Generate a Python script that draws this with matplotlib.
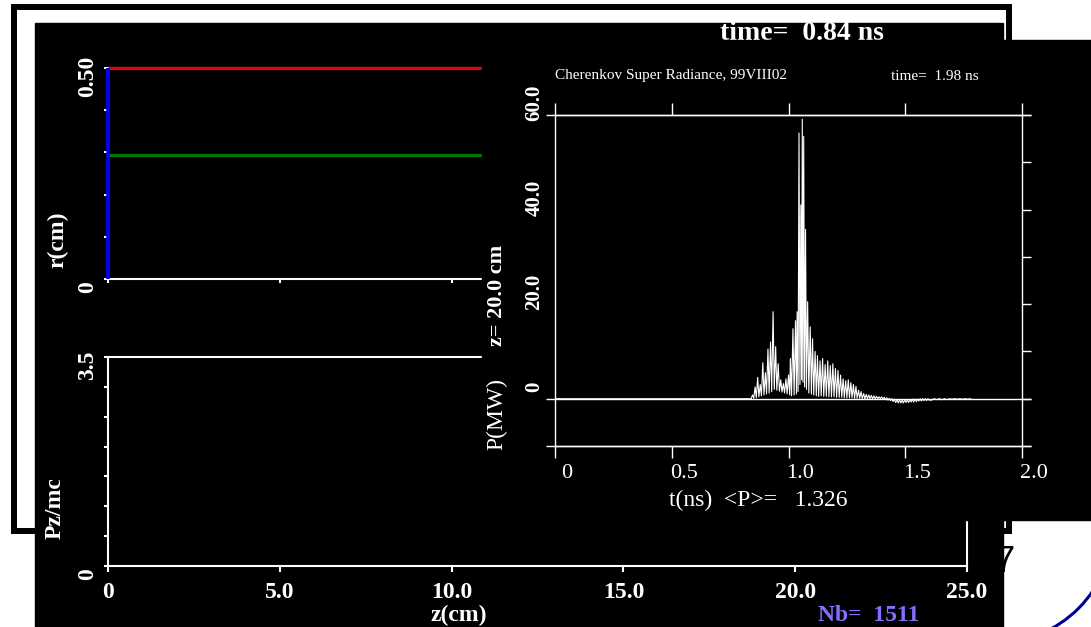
import matplotlib
matplotlib.use("Agg")
import matplotlib.pyplot as plt
from matplotlib.patches import Rectangle, Ellipse
from matplotlib.transforms import ScaledTranslation

plt.rcParams['font.family'] = ['Liberation Serif', 'DejaVu Serif']

W, H = 1091, 627

# r-z window: wall, beam edge, cathode
z_line = [0.0, 25.0]
r_wall = [0.50, 0.50]
r_beam = [0.295, 0.295]
z_cath = [0.0, 0.0]
r_cath = [0.0, 0.50]

r_ticks = [0, 0.1, 0.2, 0.3, 0.4, 0.5]
r_ticklabels = ["0", "", "", "", "", "0.50"]
pz_ticks = [0, 0.5, 1.0, 1.5, 2.0, 2.5, 3.0, 3.5]
pz_ticklabels = ["0", "", "", "", "", "", "", "3.5"]
z_ticks = [0, 5, 10, 15, 20, 25]
z_ticklabels = ["0", "5.0", "10.0", "15.0", "20.0", "25.0"]

t_ticks = [0, 0.5, 1.0, 1.5, 2.0]
t_ticklabels = ["0", "0.5", "1.0", "1.5", "2.0"]
p_ticks = [-10, 0, 10, 20, 30, 40, 50, 60]
p_ticklabels = ["", "0", "", "20.0", "", "40.0", "", "60.0"]
p_lines = [-10, 0, 60]

# output power at z = 20 cm, P(MW) vs t(ns)
t_pre = [0.000, 0.840]
p_pre = [0.0, 0.0]

t_rise = [0.846, 0.851, 0.857, 0.862, 0.868, 0.873, 0.879, 0.884, 0.890, 0.895,
          0.901, 0.906, 0.912, 0.917, 0.923, 0.928, 0.934, 0.939, 0.945, 0.950,
          0.956, 0.961, 0.967, 0.972, 0.978, 0.983, 0.989, 0.994, 1.000, 1.005,
          1.008, 1.013, 1.019, 1.024, 1.030, 1.034]
p_rise = [0.8, 0.1, 2.5, 0.2, 4.5, 0.4, 3.0, 0.6, 7.6, 0.8,
          5.5, 1.0, 10.5, 1.2, 12.0, 1.5, 18.4, 2.0, 11.0, 1.8,
          7.4, 1.6, 4.0, 1.4, 3.2, 1.2, 4.2, 1.0, 5.0, 0.8,
          8.5, 0.6, 14.8, 0.8, 16.5, 1.0]

t_peak = [1.037, 1.041, 1.045, 1.049, 1.053, 1.056, 1.059, 1.062, 1.065, 1.069,
          1.073, 1.077, 1.082, 1.087, 1.093, 1.098, 1.103, 1.108]
p_peak = [18.4, 1.5, 56.2, 3.0, 41.0, 4.0, 59.1, 3.5, 55.5, 2.5,
          35.8, 2.0, 20.5, 1.2, 15.2, 1.0, 12.7, 0.8]

t_decay = [1.114, 1.119, 1.124, 1.129, 1.135, 1.140, 1.146, 1.151, 1.157, 1.162,
           1.168, 1.173, 1.179, 1.184, 1.190, 1.195, 1.201, 1.206, 1.212, 1.217,
           1.223, 1.228, 1.234, 1.239, 1.245, 1.250, 1.256, 1.261, 1.267, 1.272,
           1.278, 1.283, 1.289, 1.294, 1.300, 1.305, 1.311, 1.316, 1.322, 1.327,
           1.333, 1.338, 1.344, 1.349, 1.355, 1.360, 1.366, 1.371, 1.377, 1.382,
           1.388, 1.393, 1.399, 1.404, 1.410, 1.415, 1.421, 1.426, 1.432, 1.437]
p_decay = [10.0, 0.6, 9.1, 0.5, 8.0, 0.6, 8.5, 0.5, 7.2, 0.5,
           8.0, 0.4, 7.0, 0.4, 7.4, 0.4, 6.4, 0.3, 6.0, 0.3,
           5.0, 0.3, 4.2, 0.2, 3.8, 0.2, 4.0, 0.2, 3.4, 0.2,
           3.0, 0.1, 2.6, 0.1, 1.8, 0.1, 1.5, 0.0, 1.1, 0.0,
           0.9, 0.0, 0.8, 0.0, 0.7, 0.0, 0.6, 0.0, 0.5, 0.0,
           0.4, 0.0, 0.4, -0.1, 0.3, -0.2, 0.2, -0.3, 0.1, -0.4]

t_tail = [1.443, 1.448, 1.454, 1.459, 1.465, 1.470, 1.476, 1.481, 1.487, 1.492,
          1.498, 1.503, 1.509, 1.514, 1.520, 1.525, 1.531, 1.536, 1.542, 1.547,
          1.553, 1.558, 1.564, 1.569, 1.575, 1.580, 1.586, 1.591, 1.597, 1.602,
          1.613, 1.624, 1.635, 1.646, 1.657, 1.668, 1.679, 1.690, 1.701, 1.712,
          1.723, 1.734, 1.745, 1.756, 1.767, 1.780]
p_tail = [0.0, -0.6, -0.1, -0.8, -0.2, -0.9, -0.2, -0.9, -0.3, -0.9,
          -0.2, -0.8, -0.2, -0.8, -0.2, -0.7, -0.1, -0.7, -0.1, -0.6,
          -0.1, -0.5, 0.0, -0.5, 0.0, -0.4, 0.0, -0.4, 0.0, -0.3,
          -0.3, 0.0, -0.2, 0.0, -0.2, 0.0, -0.2, 0.0, -0.1, 0.0,
          -0.1, 0.0, -0.1, 0.0, -0.1, 0.0]

t_ns = t_pre + t_rise + t_peak + t_decay + t_tail
p_mw = p_pre + p_rise + p_peak + p_decay + p_tail


def fx(x):
    return x / W


def fy(y):
    return 1 - y / H


def box(x0, y0, x1, y1):
    return [fx(x0), fy(y1), fx(x1) - fx(x0), fy(y0) - fy(y1)]


def shift(labels, dx, dy):
    for lab in labels:
        lab.set_transform(lab.get_transform() + ScaledTranslation(dx / 100, -dy / 100, fig.dpi_scale_trans))


fig = plt.figure(figsize=(W / 100, H / 100), dpi=100)
fig.patch.set_facecolor("white")

# slide decoration behind the windows
fig.add_artist(Rectangle((fx(14), fy(531)), fx(1009) - fx(14), fy(7) - fy(531), fill=False,
                         ec="black", lw=4.3, transform=fig.transFigure, zorder=0.1))
fig.add_artist(Ellipse((fx(995), fy(525)), 2 * 118 / W, 2 * 118 / H, fill=False,
                       ec="#00008f", lw=2.2, transform=fig.transFigure, zorder=0.2))
fig.text(fx(1016), fy(562), "17", ha="right", va="center", fontsize=26,
         family="Liberation Sans", color="black", zorder=0.3)

# left window
fig.add_artist(Rectangle((fx(35), -0.01), fx(1003) - fx(35), fy(23) + 0.01, color="black",
                         transform=fig.transFigure, zorder=0.5))

ax_r = fig.add_axes(box(108, 68, 967, 279))
ax_pz = fig.add_axes(box(108, 357, 967, 566))
for ax in (ax_r, ax_pz):
    ax.set_zorder(1)
    ax.patch.set_visible(False)
    for sp in ax.spines.values():
        sp.set_color("white")
        sp.set_linewidth(1.5)
    ax.set_xlim(0, 25)
    ax.set_xticks(z_ticks)

ax_r.set_ylim(0, 0.5)
ax_r.set_yticks(r_ticks)
ax_r.set_xticklabels([])
ax_r.set_yticklabels(r_ticklabels, rotation=90, fontweight="bold", va="center")
ax_r.tick_params(axis="x", direction="out", length=3, width=1.5, colors="white")
ax_r.tick_params(axis="y", direction="out", length=3, width=1.5, colors="white",
                 labelsize=17, pad=4)
ax_r.plot(z_line, r_wall, color="#ee0000", lw=2.3, solid_capstyle="butt", clip_on=False, zorder=3)
ax_r.plot(z_line, r_beam, color="#007800", lw=2.3, solid_capstyle="butt", clip_on=False, zorder=3)
ax_r.plot(z_cath, r_cath, color="#0000ff", lw=2.6, solid_capstyle="butt", clip_on=False, zorder=3)
shift(ax_r.get_yticklabels(), 0, 8)

ax_pz.set_ylim(0, 3.5)
ax_pz.set_yticks(pz_ticks)
ax_pz.set_xticklabels(z_ticklabels, fontweight="bold")
ax_pz.set_yticklabels(pz_ticklabels, rotation=90, fontweight="bold", va="center")
ax_pz.tick_params(axis="x", direction="out", length=4.3, width=1.5, colors="white",
                  labelsize=17, pad=7)
ax_pz.tick_params(axis="y", direction="out", length=3, width=1.5, colors="white",
                  labelsize=17, pad=4)
shift(ax_pz.get_yticklabels(), 0, 8)

fig.text(fx(802), fy(33), "time=  0.84 ns", ha="center", va="center", fontsize=20,
         fontweight="bold", color="white", zorder=1.5)
fig.text(fx(58), fy(240), "r(cm)", ha="center", va="center", rotation=90, fontsize=17,
         fontweight="bold", color="white", zorder=1.5)
fig.text(fx(55), fy(508), "Pz/mc", ha="center", va="center", rotation=90, fontsize=17,
         fontweight="bold", color="white", zorder=1.5)
fig.text(fx(459), fy(626), "z(cm)", ha="center", va="bottom", fontsize=17,
         fontweight="bold", color="white", zorder=1.5)
fig.text(fx(818), fy(626), "Nb=  1511", ha="left", va="bottom", fontsize=17,
         fontweight="bold", color="#8470ff", zorder=1.5)

# right window: power at the output
fig.add_artist(Rectangle((fx(482), fy(520)), 1.01 - fx(482), fy(40) - fy(520), color="black",
                         transform=fig.transFigure, zorder=2))

ax_p = fig.add_axes(box(555, 115, 1022, 446))
ax_p.set_zorder(3)
ax_p.patch.set_visible(False)
for sp in ax_p.spines.values():
    sp.set_color("white")
    sp.set_linewidth(1.0)
ax_p.set_xlim(0, 2.0)
ax_p.set_ylim(-10, 60)
ax_p.set_xticks(t_ticks)
ax_p.set_yticks(p_ticks)
ax_p.set_xticklabels(t_ticklabels)
ax_p.set_yticklabels(p_ticklabels, rotation=90, fontweight="bold", va="center")
ax_p.tick_params(axis="x", direction="out", length=8.6, width=1.0, colors="white",
                 top=True, labelsize=16, pad=4)
ax_p.tick_params(axis="y", direction="out", length=6.5, width=1.0, colors="white",
                 left=False, right=True, labelsize=15, pad=1)
shift(ax_p.get_xticklabels(), 12, 0)
shift(ax_p.get_yticklabels(), 0, -12)
ax_p.hlines(p_lines, -0.04, 2.04, colors="white", lw=1.0, clip_on=False)
ax_p.plot(t_ns, p_mw, color="white", lw=0.8)

fig.text(fx(555), fy(76), "Cherenkov Super Radiance, 99VIII02", ha="left", va="center",
         fontsize=11, color="white", zorder=4)
fig.text(fx(891), fy(76), "time=  1.98 ns", ha="left", va="center",
         fontsize=11, color="white", zorder=4)
fig.text(fx(758), fy(500), "t(ns)  <P>=   1.326", ha="center", va="center",
         fontsize=17, color="white", zorder=4)
fig.text(fx(497), fy(414), "P(MW)", ha="center", va="center", rotation=90,
         fontsize=17, color="white", zorder=4)
fig.text(fx(497), fy(295), "z= 20.0 cm", ha="center", va="center", rotation=90,
         fontsize=16, fontweight="bold", color="white", zorder=4)

fig.savefig("out.png", dpi=100, facecolor="white")
